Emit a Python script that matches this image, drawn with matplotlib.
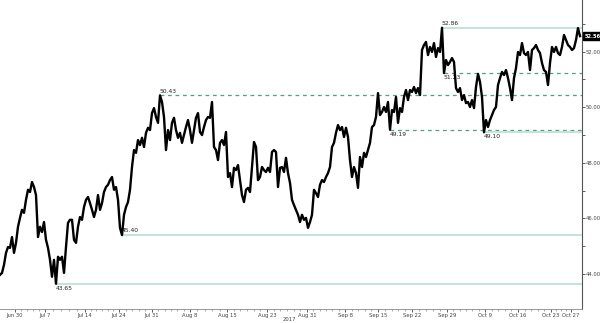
import matplotlib.pyplot as plt
import numpy as np

# crude price path (one reading per ~0.3 trading day)
prices = [
    43.97, 44.04, 44.33, 44.76, 44.97, 44.94, 45.33, 44.76, 45.12, 45.70,
    46.02, 46.31, 46.20, 46.67, 47.03, 46.95, 47.31, 47.13, 46.84, 45.33,
    45.70, 45.51, 45.87, 45.23, 44.94, 44.51, 43.90, 44.51, 43.65, 44.62,
    44.51, 44.62, 44.04, 44.97, 45.84, 45.95, 45.95, 45.23, 45.12, 45.70,
    46.05, 45.95, 46.41, 46.67, 46.77, 46.55, 46.31, 46.05, 46.31, 46.84,
    46.31, 46.55, 46.95, 47.13, 47.21, 47.38, 47.49, 47.03, 47.13, 46.67,
    45.66, 45.40, 46.13, 46.41, 46.59, 47.03, 47.85, 48.46, 48.36, 48.82,
    48.64, 48.90, 48.57, 49.08, 49.26, 49.18, 49.79, 49.97, 49.65, 49.44,
    50.43, 50.19, 49.65, 48.46, 49.18, 48.82, 49.44, 49.62, 49.18, 48.90,
    49.08, 48.72, 49.00, 49.29, 49.54, 49.18, 48.72, 49.18, 49.62, 49.79,
    49.11, 49.00, 49.29, 49.54, 49.65, 49.62, 50.19, 48.57, 48.46, 48.10,
    48.72, 48.82, 48.64, 49.11, 47.49, 47.63, 47.13, 47.82, 47.74, 47.92,
    47.38, 46.84, 46.59, 47.03, 47.10, 46.95, 47.85, 48.75, 48.57, 47.38,
    47.49, 47.85, 47.74, 47.67, 47.82, 47.67, 48.39, 48.46, 48.39, 47.13,
    47.82, 47.85, 47.67, 48.18, 47.63, 47.28, 46.67, 46.48, 46.31, 46.13,
    45.87, 46.13, 45.95, 46.02, 45.66, 45.87, 46.13, 47.03, 46.91, 46.77,
    47.21, 47.38, 47.31, 47.49, 47.63, 47.85, 48.57, 48.72, 49.08, 49.36,
    49.18, 49.29, 48.93, 49.26, 48.93, 48.10, 47.49, 47.85, 47.63, 47.10,
    48.21, 47.85, 48.36, 48.21, 48.46, 48.72, 49.29, 49.36, 49.65, 50.51,
    49.72, 49.83, 50.01, 49.83, 50.19, 49.19, 49.90, 49.83, 50.37, 49.44,
    49.97, 49.83, 50.37, 50.62, 50.26, 50.62, 50.55, 50.73, 50.51, 50.69,
    50.44, 52.06, 52.24, 52.35, 51.88, 52.17, 51.99, 52.31, 51.81, 52.13,
    51.99, 52.86, 51.23, 51.70, 51.52, 51.63, 51.77, 51.63, 50.69, 50.55,
    50.69, 50.26, 50.44, 50.15, 50.19, 50.01, 50.26, 49.97, 50.73, 51.20,
    50.91, 50.37, 49.10, 49.54, 49.29, 49.54, 49.72, 49.90, 50.01, 50.80,
    51.05, 51.27, 51.16, 51.34, 51.05, 50.69, 50.26, 51.05, 51.41, 51.99,
    51.88, 52.31, 51.95, 51.88, 51.99, 51.34, 52.06, 52.13, 52.24, 52.06,
    51.95, 51.59, 51.34, 51.27, 50.80, 51.59, 52.17, 51.99, 52.17, 51.95,
    51.88, 52.17, 52.60, 52.42, 52.24, 52.17, 52.06, 52.13, 52.42, 52.85,
    52.56,
]

tick_labels = ['Jun 30', 'Jul 7', 'Jul 14', 'Jul 24', 'Jul 31', 'Aug 8', 'Aug 15',
               'Aug 23', 'Aug 31', 'Sep 8', 'Sep 15', 'Sep 22', 'Sep 29', 'Oct 9',
               'Oct 16', 'Oct 23', 'Oct 27']
tick_dates = ['2017-06-30', '2017-07-07', '2017-07-14', '2017-07-24', '2017-07-31',
              '2017-08-08', '2017-08-15', '2017-08-23', '2017-08-31', '2017-09-08',
              '2017-09-15', '2017-09-22', '2017-09-29', '2017-10-09', '2017-10-16',
              '2017-10-23', '2017-10-27']
tick_pos = [7.5, 22.5, 42.5, 59.5, 76, 95, 113.5, 133.5, 153.5, 172.5,
            189, 206, 223.5, 242.5, 259, 275.5, 285.5]

levels = [52.86, 51.23, 50.43, 49.19, 49.10, 45.40, 43.65]
level_dashed = [False, True, True, True, False, False, False]
label_above = [True, False, True, False, False, True, False]

x = np.arange(len(prices))

fig = plt.figure(figsize=(6, 3.23), dpi=100)
ax = fig.add_axes([0, 0.0433, 0.97, 0.9567])

ax.set_xlim(0, 291)
ax.set_ylim(42.74, 53.86)

# support / resistance levels
for lv, dashed, above in zip(levels, level_dashed, label_above):
    i = int(np.argmin(np.abs(np.array(prices) - lv)))
    if dashed:
        ax.hlines(lv, i, 291, colors='#4e9f8c', lw=0.9, linestyles=(0, (3, 3)), zorder=1)
    else:
        ax.hlines(lv, i, 291, colors='#c4e4d8', lw=1.4, zorder=1)
    dy = 1.2 if above else -1.5
    ax.annotate(f'{lv:.2f}', (i, lv), xytext=(0, dy), textcoords='offset points',
                ha='left', va='bottom' if above else 'top', fontsize=4.3, color='#222222')

ax.plot(x, prices, color='black', lw=1.7, zorder=3)

# last price tag
ax.text(1.004, prices[-1], f'{prices[-1]:.2f}', transform=ax.get_yaxis_transform(),
        ha='left', va='center', fontsize=3.7, color='white', fontweight='bold',
        bbox=dict(boxstyle='square,pad=0.25', fc='black', ec='black'))

# axes styling
for s in ['left', 'top']:
    ax.spines[s].set_visible(False)
ax.spines['right'].set_color('#555555')
ax.spines['bottom'].set_color('#888888')
ax.spines['right'].set_linewidth(0.8)
ax.spines['bottom'].set_linewidth(0.6)

ax.yaxis.tick_right()
ax.set_yticks([44, 46, 48, 50, 52])
ax.set_yticklabels([f'{v:.2f}' for v in [44, 46, 48, 50, 52]])
ax.set_yticks([45, 47, 49, 51, 53], minor=True)
ax.tick_params(axis='y', which='both', length=2, width=0.6, pad=0.8, labelsize=3.8,
               colors='#444444', direction='out')

ax.set_xticks(tick_pos)
ax.set_xticklabels(tick_labels)
minor = []
for a, b, d0, d1 in zip(tick_pos[:-1], tick_pos[1:], tick_dates[:-1], tick_dates[1:]):
    n = int(np.busday_count(d0, d1))
    minor.extend(np.linspace(a, b, n + 1)[1:-1])
ax.set_xticks(minor, minor=True)
ax.tick_params(axis='x', which='major', length=2, width=0.6, pad=1.2, labelsize=3.8,
               colors='#444444')
ax.tick_params(axis='x', which='minor', length=1.2, width=0.5, colors='#888888')

fig.text(0.482, 0.004, '2017', ha='center', va='bottom', fontsize=3.8, color='#444444')

fig.savefig('out.png', dpi=100)
